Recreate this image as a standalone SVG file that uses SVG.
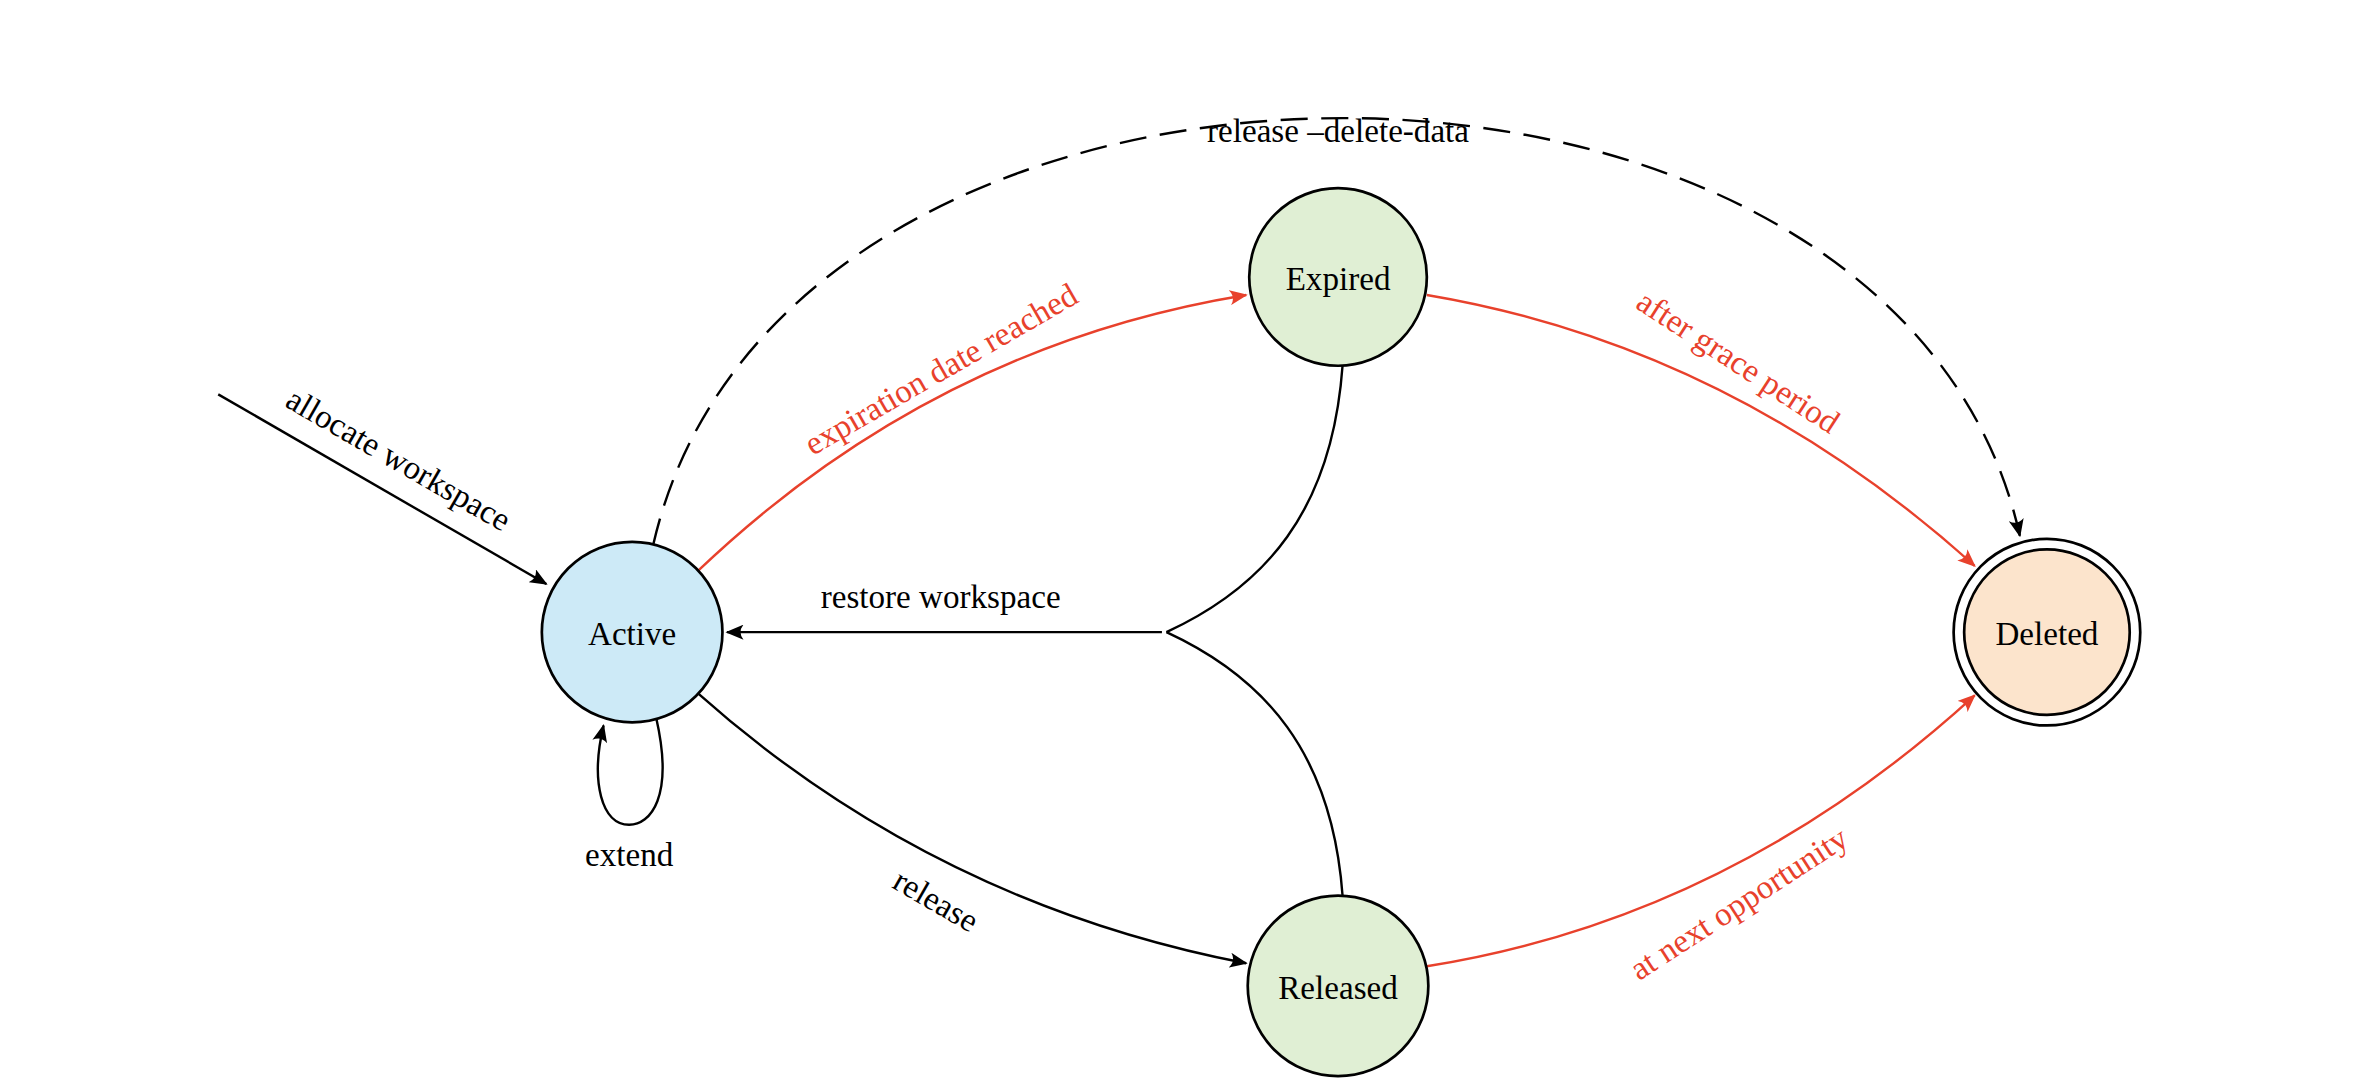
<svg xmlns="http://www.w3.org/2000/svg" width="2360" height="1092" viewBox="0 0 2360 1092">
<defs>
<marker id="ak" viewBox="0 0 12 10" refX="11" refY="5" markerWidth="12" markerHeight="10" markerUnits="userSpaceOnUse" orient="auto"><path d="M0,0 Q4,5 0,10 L12,5 Z" fill="#000"/></marker>
<marker id="ar" viewBox="0 0 12 10" refX="11" refY="5" markerWidth="12" markerHeight="10" markerUnits="userSpaceOnUse" orient="auto"><path d="M0,0 Q4,5 0,10 L12,5 Z" fill="#e8412c"/></marker>
<style>
text{font-family:"Liberation Serif",serif;font-size:22px;text-anchor:middle;dominant-baseline:central;fill:#000}
.r{fill:#e8412c}
.e{fill:none;stroke:#000;stroke-width:1.6}
.er{fill:none;stroke:#e8412c;stroke-width:1.6}
.n{stroke:#000;stroke-width:1.8}
</style>
</defs>
<rect width="2360" height="1092" fill="#fff"/>
<g transform="scale(1.5051)">
<g id="connectors">
<path class="e" d="M145,262 L363,388" marker-end="url(#ak)"/>
<path class="er" d="M463,380 Q620,230 828,196" marker-end="url(#ar)"/>
<path class="er" d="M948,196 Q1150,230 1312,376" marker-end="url(#ar)"/>
<path class="er" d="M948,642 Q1150,610 1312,462" marker-end="url(#ar)"/>
<path class="e" d="M463,460 Q620,600 828,640" marker-end="url(#ak)"/>
<path class="e" d="M434,362 C520,-15 1260,-15 1342,356" stroke-dasharray="18,9" marker-end="url(#ak)"/>
<path class="e" d="M892,243 C885,340 840,390 775,420"/>
<path class="e" d="M892,595 C885,500 840,450 775,420"/>
<path class="e" d="M772,420 L483,420" marker-end="url(#ak)"/>
<path class="e" d="M436,477 C448,530 432,548 418,548 C400,548 392,520 401,482" marker-end="url(#ak)"/>
<text x="265" y="305" transform="rotate(30 265 305)">allocate workspace</text>
<text class="r" x="625" y="245" transform="rotate(-30 625 245)">expiration date reached</text>
<text class="r" x="1155" y="240" transform="rotate(33 1155 240)">after grace period</text>
<text class="r" x="1155" y="600" transform="rotate(-33 1155 600)">at next opportunity</text>
<text x="622" y="598" transform="rotate(30 622 598)">release</text>
<text x="889" y="87">release –delete-data</text>
<text x="625" y="396">restore workspace</text>
<text x="418" y="568">extend</text>
</g>
<g id="active"><circle class="n" cx="420" cy="420" r="60" fill="#cdeaf7"/><text x="420" y="421">Active</text></g>
<g id="expired"><circle class="n" cx="889" cy="184" r="59" fill="#e0efd4"/><text x="889" y="185">Expired</text></g>
<g id="released"><circle class="n" cx="889" cy="655" r="60" fill="#e0efd4"/><text x="889" y="656">Released</text></g>
<g id="deleted"><circle class="n" cx="1360" cy="420" r="62" fill="#fff"/><circle class="n" cx="1360" cy="420" r="55" fill="#fce4cc"/><text x="1360" y="421">Deleted</text></g>
</g>
</svg>
